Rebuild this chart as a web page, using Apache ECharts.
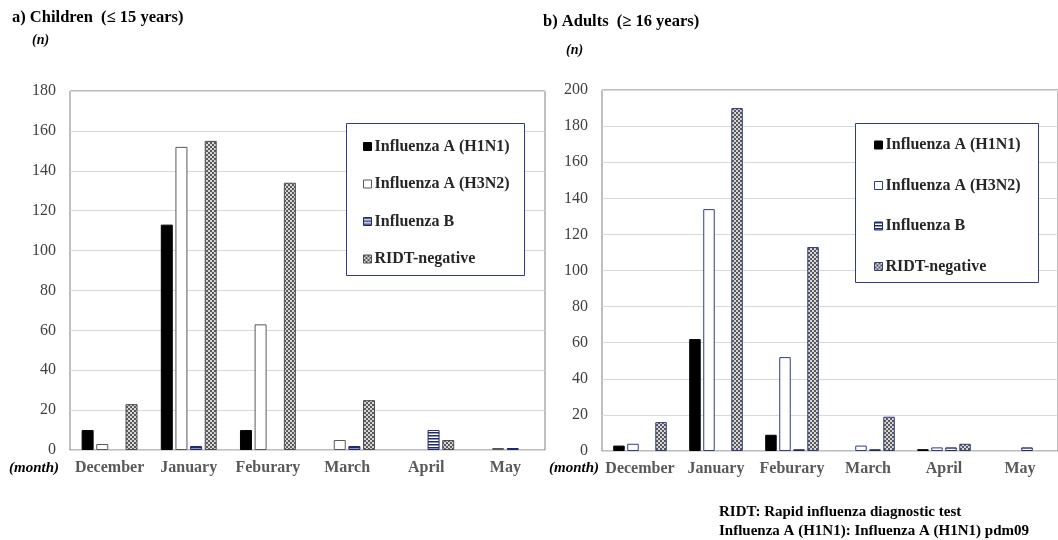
<!DOCTYPE html>
<html>
<head>
<meta charset="utf-8">
<script src="https://cdn.jsdelivr.net/npm/echarts@6/dist/echarts.min.js"></script>
<style>html,body{margin:0;padding:0;background:#fff;}#c{width:1058px;height:540px;}</style>
</head>
<body>
<div id="c"></div>
<script>
const categories = ['December', 'January', 'Feburary', 'March', 'April', 'May'];
const seriesNames = ['Influenza A (H1N1)', 'Influenza A (H3N2)', 'Influenza B', 'RIDT-negative'];
const childH1N1 = [10, 113, 10, 0, 0, 0];
const childH3N2 = [3, 152, 63, 5, 0, 1];
const childB = [0, 2, 0, 2, 10, 1];
const childRIDT = [23, 155, 134, 25, 5, 0];
const adultH1N1 = [3, 62, 9, 0, 1, 0];
const adultH3N2 = [4, 134, 52, 3, 2, 0];
const adultB = [0, 0, 1, 1, 2, 2];
const adultRIDT = [16, 190, 113, 19, 4, 0];
const childTicks = { min: 0, max: 180, interval: 20 };
const adultTicks = { min: 0, max: 200, interval: 20 };

const SERIF = 'Liberation Serif';
const NAVY = '#2f3b8c';

function checker() {
  const c = document.createElement('canvas'); c.width = 4; c.height = 4;
  const x = c.getContext('2d');
  x.fillStyle = '#d6d6d6'; x.fillRect(0, 0, 4, 4);
  x.fillStyle = '#5a5a5a'; x.fillRect(0, 0, 2, 2); x.fillRect(2, 2, 2, 2);
  return c;
}
function stripes() {
  const c = document.createElement('canvas'); c.width = 4; c.height = 3;
  const x = c.getContext('2d');
  x.fillStyle = '#ffffff'; x.fillRect(0, 0, 4, 3);
  x.fillStyle = '#1f2a6b'; x.fillRect(0, 0, 4, 1);
  x.fillStyle = '#8a94c4'; x.fillRect(0, 1, 4, 1);
  return c;
}
const checkPat = { image: checker(), repeat: 'repeat' };
const stripePat = { image: stripes(), repeat: 'repeat' };

function nz(arr) { return arr.map(v => v === 0 ? '-' : v); }

function styles(right) {
  return [
    { color: '#000', borderColor: '#000', borderWidth: 1 },
    { color: '#fff', borderColor: right ? NAVY : '#595959', borderWidth: 1 },
    { color: stripePat, borderColor: '#1f2a6b', borderWidth: 1 },
    { color: checkPat, borderColor: right ? NAVY : '#4d4d4d', borderWidth: 1 }
  ];
}

const childData = [childH1N1, childH3N2, childB, childRIDT];
const adultData = [adultH1N1, adultH3N2, adultB, adultRIDT];
const series = [];
const sl = styles(false), sr = styles(true);
seriesNames.forEach((n, i) => {
  series.push({ name: n, type: 'bar', xAxisIndex: 0, yAxisIndex: 0, data: nz(childData[i]),
    barWidth: 12, barGap: '22%', itemStyle: sl[i], emphasis: { disabled: true } });
});
seriesNames.forEach((n, i) => {
  series.push({ name: n, type: 'bar', xAxisIndex: 1, yAxisIndex: 1, data: nz(adultData[i]),
    barWidth: 11.5, barGap: '22%', itemStyle: sr[i], emphasis: { disabled: true } });
});

function xAxis(gi) {
  return { type: 'category', gridIndex: gi, data: categories,
    axisTick: { show: false },
    axisLine: { show: true, lineStyle: { color: '#d9d9d9', width: 1 } },
    axisLabel: { interval: 0, margin: 10, fontFamily: SERIF, fontWeight: 'bold', fontSize: 16, color: '#595959' } };
}
function yAxis(gi, t) {
  return { type: 'value', gridIndex: gi, min: t.min, max: t.max, interval: t.interval,
    axisLine: { show: false }, axisTick: { show: false },
    splitLine: { lineStyle: { color: '#d9d9d9', width: 1 } },
    axisLabel: { margin: 14, fontFamily: SERIF, fontSize: 16, color: '#404040' } };
}
function legend(right) {
  const st = right ? sr : sl;
  return {
    show: true, orient: 'vertical', left: right ? 874 : 363, top: right ? 136 : 137.5, padding: 0,
    itemWidth: 8, itemHeight: 8, itemGap: right ? 22.5 : 19.5, icon: 'rect', z: 6,
    selectedMode: false,
    textStyle: { fontFamily: SERIF, fontWeight: 'bold', fontSize: 16, lineHeight: 18, color: '#262626', padding: [0, 0, 0, -2] },
    data: seriesNames.map((n, i) => ({ name: n, itemStyle: st[i] }))
  };
}
function txt(x, y, text, size, weight, style, fill) {
  return { type: 'text', x: x, y: y, z: 10,
    style: { text: text, fontFamily: SERIF, fontSize: size, fontWeight: weight, fontStyle: style || 'normal', fill: fill || '#000', verticalAlign: 'middle' } };
}

const option = {
  animation: false,
  backgroundColor: '#fff',
  grid: [
    { left: 70, top: 91, width: 475, bottom: 90, show: true, borderColor: '#7f7f7f', borderWidth: 1, backgroundColor: 'transparent' },
    { left: 602, top: 90, width: 459, bottom: 89, show: true, borderColor: '#7f7f7f', borderWidth: 1, backgroundColor: 'transparent' }
  ],
  xAxis: [xAxis(0), xAxis(1)],
  yAxis: [yAxis(0, childTicks), yAxis(1, adultTicks)],
  legend: [legend(false), legend(true)],
  series: series,
  graphic: [
    { type: 'rect', z: 3, shape: { x: 346.5, y: 123.5, width: 178, height: 152 }, style: { fill: '#fff', stroke: NAVY, lineWidth: 1 } },
    { type: 'rect', z: 3, shape: { x: 855.5, y: 123.5, width: 183, height: 159 }, style: { fill: '#fff', stroke: NAVY, lineWidth: 1 } },
    txt(12, 18, 'a) Children  (\u2264 15 years)', 16.5, 'bold'),
    txt(32, 40, '(n)', 14, 'bold', 'italic'),
    txt(543, 22, 'b) Adults  (\u2265 16 years)', 16.5, 'bold'),
    txt(566, 50, '(n)', 14, 'bold', 'italic'),
    txt(9, 468, '(month)', 15, 'bold', 'italic'),
    txt(549, 468, '(month)', 15, 'bold', 'italic'),
    txt(719, 512, 'RIDT: Rapid influenza diagnostic test', 15, 'bold'),
    txt(719, 531, 'Influenza A (H1N1): Influenza A (H1N1) pdm09', 15, 'bold')
  ]
};
const chart = echarts.init(document.getElementById('c'), null, { renderer: 'canvas' });
chart.setOption(option);
</script>
</body>
</html>
